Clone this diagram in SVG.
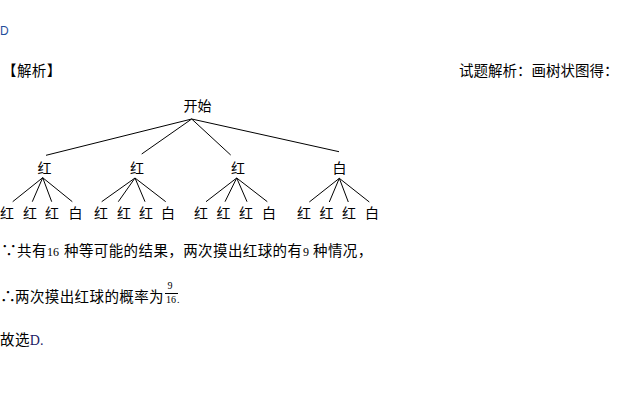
<svg xmlns="http://www.w3.org/2000/svg" width="624" height="410" viewBox="0 0 624 410">
<style>
text{font-family:"Noto Sans CJK SC","Liberation Sans",sans-serif;font-size:14px;fill:#000}
.t{font-size:14.5px;letter-spacing:0.4px}
.n{text-anchor:middle;font-size:14px}
.s{font-family:"Liberation Serif",serif;font-size:12px;letter-spacing:0}
.f{font-family:"Liberation Serif",serif;font-size:10px;text-anchor:middle}
.c line{stroke:#000;stroke-width:1}
</style>
<rect width="624" height="410" fill="#fff"/>
<text x="0" y="35" style="font-family:'Liberation Sans',sans-serif;font-size:12px;fill:#1f4e9c">D</text>
<text x="2" y="76" class="t">【解析】</text>
<text x="459" y="76" class="t" style="letter-spacing:0">试题解析：画树状图得：</text>

<g class="c" id="connectors">
<line x1="191.7" y1="119" x2="46" y2="155.3"/>
<line x1="191.7" y1="119" x2="141.7" y2="154"/>
<line x1="191.7" y1="119" x2="230.7" y2="155"/>
<line x1="191.7" y1="119" x2="339" y2="151.7"/>
<line x1="42.7" y1="177.7" x2="12.7" y2="201.7"/>
<line x1="42.7" y1="177.7" x2="32.3" y2="201.7"/>
<line x1="42.7" y1="177.7" x2="51.7" y2="201.7"/>
<line x1="42.7" y1="177.7" x2="72.3" y2="201.7"/>
<line x1="135" y1="178" x2="101.7" y2="201.7"/>
<line x1="135" y1="178" x2="118.3" y2="201.7"/>
<line x1="135" y1="178" x2="145" y2="201.7"/>
<line x1="135" y1="178" x2="165.7" y2="201.7"/>
<line x1="236.7" y1="178" x2="206" y2="201.7"/>
<line x1="236.7" y1="178" x2="225" y2="201.7"/>
<line x1="236.7" y1="178" x2="247" y2="201.7"/>
<line x1="236.7" y1="178" x2="267.3" y2="201.7"/>
<line x1="339.3" y1="178.3" x2="309.3" y2="202"/>
<line x1="339.3" y1="178.3" x2="329.3" y2="202"/>
<line x1="339.3" y1="178.3" x2="348.3" y2="202"/>
<line x1="339.3" y1="178.3" x2="369.3" y2="202"/>
</g>

<g id="root"><text class="n" x="197.5" y="111">开始</text></g>
<g id="a1"><text class="n" x="44.5" y="172.5">红</text></g>
<g id="a2"><text class="n" x="137" y="172.5">红</text></g>
<g id="a3"><text class="n" x="238" y="172.5">红</text></g>
<g id="a4"><text class="n" x="339.5" y="172.5">白</text></g>
<g id="b1"><text class="n" x="7" y="218">红</text></g>
<g id="b2"><text class="n" x="30" y="218">红</text></g>
<g id="b3"><text class="n" x="52" y="218">红</text></g>
<g id="b4"><text class="n" x="75.5" y="218">白</text></g>
<g id="b5"><text class="n" x="101" y="218">红</text></g>
<g id="b6"><text class="n" x="124" y="218">红</text></g>
<g id="b7"><text class="n" x="146" y="218">红</text></g>
<g id="b8"><text class="n" x="168" y="218">白</text></g>
<g id="b9"><text class="n" x="201" y="218">红</text></g>
<g id="b10"><text class="n" x="223.5" y="218">红</text></g>
<g id="b11"><text class="n" x="246" y="218">红</text></g>
<g id="b12"><text class="n" x="269" y="218">白</text></g>
<g id="b13"><text class="n" x="304" y="218">红</text></g>
<g id="b14"><text class="n" x="326.5" y="218">红</text></g>
<g id="b15"><text class="n" x="349" y="218">红</text></g>
<g id="b16"><text class="n" x="372" y="218">白</text></g>

<text y="256" class="t"><tspan x="1" style="font-size:16px">∵</tspan><tspan x="17">共有</tspan><tspan x="47" class="s">16</tspan><tspan x="64">种等可能的结果，两次摸出红球的有</tspan><tspan x="303" class="s">9</tspan><tspan x="313">种情况，</tspan></text>
<text y="302" class="t"><tspan x="0" style="font-size:16px">∴</tspan><tspan x="15">两次摸出红球的概率为</tspan></text>
<text x="170" y="289" class="f">9</text>
<line x1="165" y1="293.5" x2="178" y2="293.5" stroke="#000" stroke-width="1"/>
<text x="171" y="303" class="f">16</text>
<text x="177" y="303" class="f" style="text-anchor:start">.</text>
<text x="0" y="345" class="t">故选<tspan style="font-family:'Liberation Serif',serif;font-size:14px;letter-spacing:0;fill:#1a1a66">D.</tspan></text>
</svg>
